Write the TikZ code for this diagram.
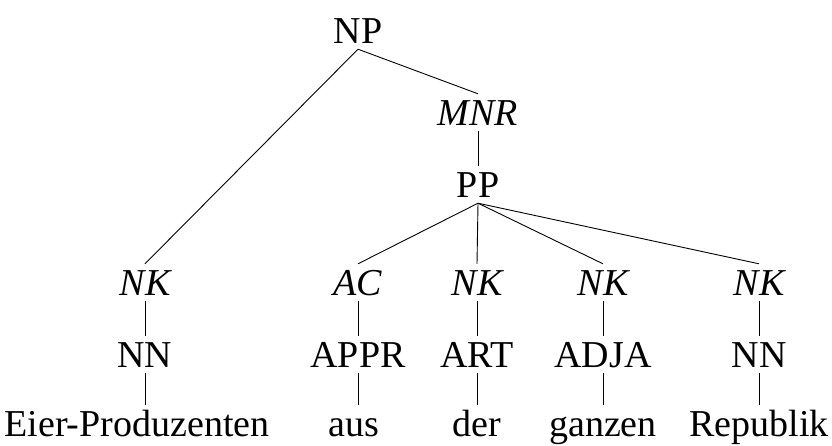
\documentclass[tikz,border=0pt]{standalone}
\usepackage{fontspec}
\setmainfont{Liberation Serif}
\begin{document}
\begin{tikzpicture}[x=1pt,y=-1pt,
  lab/.style={inner sep=0pt, text height=31pt, text depth=6pt, font=\fontsize{38}{40}\selectfont},
  fn/.style={lab, font=\fontsize{38}{40}\selectfont\itshape},
  edge/.style={draw=black, line width=0.9pt}]
\useasboundingbox (0,0) rectangle (832,445);
% baselines: 43,125,197,295,367,436 ; node center y = baseline - 12.5
\node[lab] (np) at (358,30.5) {NP};
\node[fn] (mnr) at (478,112.5) {MNR};
\node[lab] (pp) at (478,184.5) {PP};
\node[fn] (nk1) at (145,282.5) {NK};
\node[fn] (ac) at (358,282.5) {AC};
\node[fn] (nk2) at (477,282.5) {NK};
\node[fn] (nk3) at (603,282.5) {NK};
\node[fn] (nk4) at (759,282.5) {NK};
\node[lab] (nn1) at (145,354.5) {NN};
\node[lab] (appr) at (358,354.5) {APPR};
\node[lab] (art) at (477,354.5) {ART};
\node[lab] (adja) at (603,354.5) {ADJA};
\node[lab] (nn2) at (759,354.5) {NN};
\node[lab] (w1) at (137,423.5) {Eier-Produzenten};
\node[lab] (w2) at (354,423.5) {aus};
\node[lab] (w3) at (477,423.5) {der};
\node[lab] (w4) at (603,423.5) {ganzen};
\node[lab] (w5) at (759,423.5) {Republik};
\draw[edge] (np.south) -- (mnr.north);
\draw[edge] (np.south) -- (nk1.north);
\draw[edge] (mnr.south) -- (pp.north);
\foreach \c in {ac,nk2,nk3,nk4} \draw[edge] (pp.south) -- (\c.north);
\draw[edge] (nk1.south) -- (nn1.north);
\draw[edge] (ac.south) -- (appr.north);
\draw[edge] (nk2.south) -- (art.north);
\draw[edge] (nk3.south) -- (adja.north);
\draw[edge] (nk4.south) -- (nn2.north);
\draw[edge] (nn1.south) -- (nn1.south |- w1.north);
\draw[edge] (appr.south) -- (appr.south |- w2.north);
\draw[edge] (art.south) -- (w3.north);
\draw[edge] (adja.south) -- (w4.north);
\draw[edge] (nn2.south) -- (w5.north);
\end{tikzpicture}
\end{document}
